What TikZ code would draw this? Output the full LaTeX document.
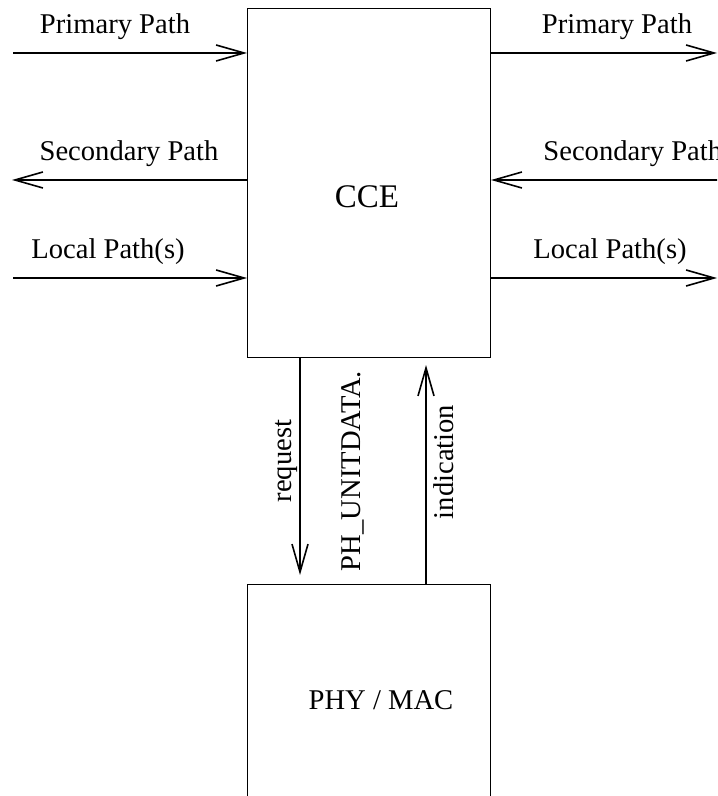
\documentclass[tikz,border=0pt]{standalone}
\usepackage{fontspec}
\setmainfont{Liberation Serif}
\usetikzlibrary{arrows.meta}
\tikzset{
  blk/.style={draw, line width=0.5pt, inner sep=0pt, anchor=north west},
  arr/.style={line width=0.8pt, -{Straight Barb[length=14pt, width=8pt, line width=0.8pt]}},
  lbl/.style={inner sep=0pt, font=\fontsize{14.3}{17}\selectfont},
}
\begin{document}
\begin{tikzpicture}[x=0.5pt, y=-0.5pt]
\useasboundingbox (0,0) rectangle (717,796);
\clip (0,0) rectangle (717,796);
% boxes
\node[blk, minimum width=121.5pt, minimum height=174.5pt] (cce) at (247,8) {};
\node[lbl, font=\fontsize{16.5}{19}\selectfont] (ccet) at (367,197) {CCE};
\node[blk, minimum width=121.5pt, minimum height=200pt] (phy) at (247,584) {};
\node[lbl] (phyt) at (381,700) {PHY / MAC};
% free ends
\coordinate (l1) at (13,53);
\coordinate (l2) at (12,180);
\coordinate (l3) at (13,278);
\coordinate (r1) at (717,53);
\coordinate (r2) at (730,180);
\coordinate (r3) at (717,278);
% left arrows
\draw[arr] (l1) -- (cce.west |- l1);
\draw[arr] (cce.west |- l2) -- (l2);
\draw[arr] (l3) -- (cce.west |- l3);
% right arrows
\draw[arr] (cce.east |- r1) -- (r1);
\draw[arr] (r2) -- (cce.east |- r2);
\draw[arr] (cce.east |- r3) -- (r3);
% labels
\node[lbl] (lt1) at (115,27) {Primary Path};
\node[lbl] (lt2) at (129,154) {Secondary Path};
\node[lbl] (lt3) at (108,252) {Local Path(s)};
\node[lbl] (rt1) at (617,27) {Primary Path};
\node[lbl, anchor=west] (rt2) at (543,154) {Secondary Path};
\node[lbl] (rt3) at (610,252) {Local Path(s)};
% vertical arrows
\coordinate (reqa) at (300,357);
\coordinate (reqb) at (300,575);
\coordinate (inda) at (426,584);
\coordinate (indb) at (426,365);
\draw[arr] (reqa) -- (reqb);
\draw[arr] (inda) -- (indb);
\node[lbl, rotate=90] (req) at (286,461) {request};
\node[lbl, rotate=90] (phu) at (353,471) {PH\_UNITDATA.};
\node[lbl, rotate=90] (ind) at (444,462) {indication};
\end{tikzpicture}
\end{document}
